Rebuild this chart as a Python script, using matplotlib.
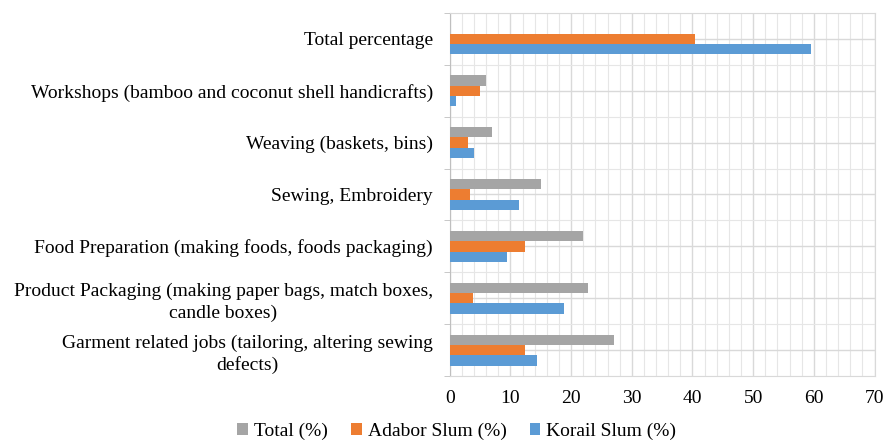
import numpy as np
import matplotlib
matplotlib.use("Agg")
import matplotlib.pyplot as plt
from matplotlib.ticker import MultipleLocator

plt.rcParams["font.family"] = ["Liberation Serif", "DejaVu Serif"]

categories = [
    "Garment related jobs (tailoring, altering sewing\ndefects)",
    "Product Packaging (making paper bags, match boxes,\ncandle boxes)",
    "Food Preparation (making foods, foods packaging)",
    "Sewing, Embroidery",
    "Weaving (baskets, bins)",
    "Workshops (bamboo and coconut shell handicrafts)",
    "Total percentage",
]
total = [27, 22.8, 22, 15, 7, 6, np.nan]
adabor = [12.4, 3.8, 12.4, 3.3, 3, 5, 40.4]
korail = [14.3, 18.8, 9.4, 11.4, 4, 1, 59.5]

series = [
    ("Total (%)", total, "#a5a5a5", 0.2),
    ("Adabor Slum (%)", adabor, "#ed7d31", 0.0),
    ("Korail Slum (%)", korail, "#5b9bd5", -0.2),
]

fig = plt.figure(figsize=(8.87, 4.44), dpi=100)
ax = fig.add_axes([0.507, 0.153, 0.479, 0.818])

y = np.arange(len(categories))
for label, vals, color, off in series:
    ax.barh(y + off, vals, height=0.2, color=color, label=label, zorder=3)

ax.set_xlim(0, 70)
ax.set_ylim(-0.5, len(categories) - 0.5)
ax.xaxis.set_major_locator(MultipleLocator(10))
ax.xaxis.set_minor_locator(MultipleLocator(2))
ax.set_yticks(y)
ax.set_yticklabels(categories, fontsize=14, multialignment="center",
                   linespacing=1.3)
ax.set_yticks(np.arange(len(categories) + 1) - 0.5, minor=True)
ax.tick_params(axis="y", which="major", length=0, pad=12)
ax.tick_params(axis="y", which="minor", length=4, color="#bfbfbf")
ax.tick_params(axis="x", which="both", length=0, labelsize=14, pad=10)

ax.grid(True, which="major", color="#d9d9d9", linewidth=1.0, zorder=0)
ax.grid(True, which="minor", color="#e6e6e6", linewidth=0.8, zorder=0)
for s in ax.spines.values():
    s.set_color("#d9d9d9")
ax.spines["left"].set_color("#bfbfbf")

fig.legend(loc="lower center", bbox_to_anchor=(0.515, -0.03), ncol=3,
           frameon=False, fontsize=14, handlelength=0.55, handleheight=0.55,
           handletextpad=0.3, columnspacing=1.2)

fig.savefig("out.png", dpi=100)
